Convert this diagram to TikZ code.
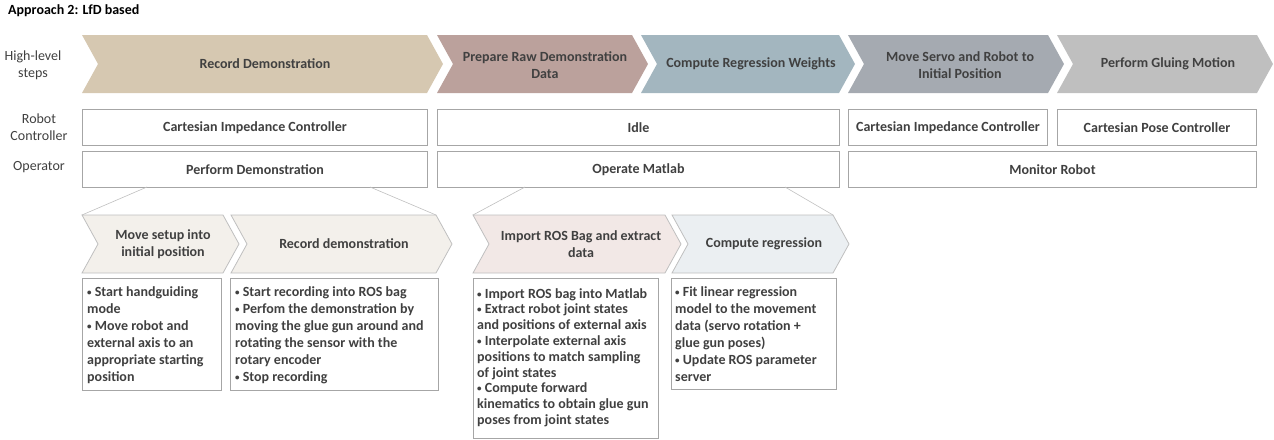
\documentclass[tikz,border=0pt]{standalone}
\usepackage{fontspec}
\setmainfont{Carlito}
\definecolor{txt}{HTML}{404040}
\definecolor{edge}{HTML}{A6A6A6}
\definecolor{fan}{HTML}{BFBFBF}
\definecolor{stepA}{HTML}{D6C8B1}
\definecolor{stepB}{HTML}{BBA19C}
\definecolor{stepC}{HTML}{A3B6BF}
\definecolor{stepD}{HTML}{A5AAB1}
\definecolor{stepE}{HTML}{BFBFBF}
\definecolor{subA}{HTML}{F3F0EB}
\definecolor{subC}{HTML}{F2E8E6}
\definecolor{subD}{HTML}{EBEFF2}
% chevron outline: #1 style, #2 left x, #3 shoulder x, #4 top y, #5 bottom y, #6 point depth
\newcommand\chevpath[6]{%
  \path[#1] (#2,#4) -- (#3,#4) -- ({#3+#6},{(#4+#5)/2}) -- (#3,#5) -- (#2,#5)
    -- ({#2+#6},{(#4+#5)/2}) -- cycle;}
% small list bullet
\newcommand\itemdot{\raisebox{0.9pt}{\fontsize{9}{9}\selectfont •}}
\begin{document}
\begin{tikzpicture}[x=1pt,y=-1pt,
  font=\fontsize{14}{17}\selectfont\bfseries, text=txt,
  topchev/.style={draw=none},
  subchev/.style={draw=fan, line width=0.8pt},
  chevtext/.style={align=center, inner sep=0pt},
  rowbox/.style={draw=edge, line width=1pt, fill=white, minimum height=36pt,
    anchor=north west, inner sep=0pt},
  sidelabel/.style={align=center, inner sep=0pt,
    font=\fontsize{14}{17}\selectfont\mdseries},
  listbox/.style={draw=edge, line width=1pt, fill=white, anchor=north west, inner sep=0pt},
  listtext/.style={anchor=north west, align=left, inner xsep=0pt, inner ysep=0pt},
  fanline/.style={draw=fan, line width=0.6pt}]
\useasboundingbox (0,0) rectangle (1274,439);

% title
\node[anchor=west, inner sep=0pt, text=black,
  font=\fontsize{14}{16}\selectfont\bfseries] (title) at (8,11) {Approach 2: LfD based};

% row labels
\node[sidelabel] (lblsteps) at (33,65) {High-level\\steps};
\node[sidelabel] (lblctrl) at (39,127) {Robot\\Controller};
\node[sidelabel] (lblop) at (39,167) {Operator};

% high-level steps
\chevpath{topchev, fill=stepA}{82}{427}{35}{93}{16}
\chevpath{topchev, fill=stepB}{437}{632}{35}{93}{16}
\chevpath{topchev, fill=stepC}{641}{839}{35}{93}{16}
\chevpath{topchev, fill=stepD}{848}{1048}{35}{93}{16}
\chevpath{topchev, fill=stepE}{1057}{1257}{35}{93}{16}
\node[chevtext] (s1) at (265,64) {Record Demonstration};
\node[chevtext] (s2) at (545,65) {Prepare Raw Demonstration\\Data};
\node[chevtext] (s3) at (751,64) {Compute Regression Weights};
\node[chevtext] (s4) at (960,65) {Move Servo and Robot to\\Initial Position};
\node[chevtext] (s5) at (1168,64) {Perform Gluing Motion};

% robot controller row
\node[rowbox, minimum width=345pt] (rc1) at (82,109) {Cartesian Impedance Controller};
\node[rowbox, minimum width=402pt] (rc2) at (437,109) {Idle};
\node[rowbox, minimum width=199pt] (rc3) at (848,109) {Cartesian Impedance Controller};
\node[rowbox, minimum width=199pt] (rc4) at (1057,109) {Cartesian Pose Controller};

% operator row
\node[rowbox, minimum width=345pt] (op1) at (82,151) {Perform Demonstration};
\node[rowbox, minimum width=402pt] (op2) at (437,151) {Operate Matlab};
\node[rowbox, minimum width=408pt] (op3) at (848,151) {Monitor Robot};

% detailed sub-steps
\chevpath{subchev, fill=subA}{82}{223}{215}{273}{16}
\chevpath{subchev, fill=subA}{231}{436}{215}{273}{16}
\chevpath{subchev, fill=subC}{473}{665}{215}{273}{16}
\chevpath{subchev, fill=subD}{672}{833}{215}{273}{16}
\node[chevtext] (d1) at (163,244) {Move setup into\\initial position};
\node[chevtext] (d2) at (344,244) {Record demonstration};
\node[chevtext] (d3) at (581,244) {Import ROS Bag and extract\\data};
\node[chevtext] (d4) at (764,244) {Compute regression};

% corners of the sub-step groups
\coordinate (d1nw) at (82,215);
\coordinate (d2ne) at (436,215);
\coordinate (d3nw) at (473,215);
\coordinate (d4ne) at (833,215);
\coordinate (op1a) at (147,187);
\coordinate (op1b) at (370,187);
\coordinate (op2a) at (525,187);
\coordinate (op2b) at (785,187);
\draw[fanline] (op1a) -- (d1nw);
\draw[fanline] (op1b) -- (d2ne);
\draw[fanline] (op2a) -- (d3nw);
\draw[fanline] (op2b) -- (d4ne);

% task lists
\node[listbox, minimum width=139pt, minimum height=112pt] (bA) at (82,278) {};
\node[listbox, minimum width=208pt, minimum height=112pt] (bB) at (230,278) {};
\node[listbox, minimum width=185pt, minimum height=160pt] (bC) at (473,278) {};
\node[listbox, minimum width=165pt, minimum height=111pt] (bD) at (671,278) {};

\node[listtext] (tA) at ([shift={(5,8)}]bA.north west)
  {\itemdot{} Start handguiding\\mode\\\itemdot{} Move robot and\\external axis to an\\appropriate starting\\position};
\node[listtext] (tB) at ([shift={(5,8)}]bB.north west)
  {\itemdot{} Start recording into ROS bag\\\itemdot{} Perfom the demonstration by\\moving the glue gun around and\\rotating the sensor with the\\rotary encoder\\\itemdot{} Stop recording};
\node[listtext, font=\fontsize{14}{15.8}\selectfont\bfseries] (tC) at ([shift={(4,10)}]bC.north west)
  {\itemdot{} Import ROS bag into Matlab\\\itemdot{} Extract robot joint states\\and positions of external axis\\\itemdot{} Interpolate external axis\\positions to match sampling\\of joint states\\\itemdot{} Compute forward\\kinematics to obtain glue gun\\poses from joint states};
\node[listtext] (tD) at ([shift={(4,8)}]bD.north west)
  {\itemdot{} Fit linear regression\\model to the movement\\data (servo rotation +\\glue gun poses)\\\itemdot{} Update ROS parameter\\server};
\end{tikzpicture}
\end{document}
